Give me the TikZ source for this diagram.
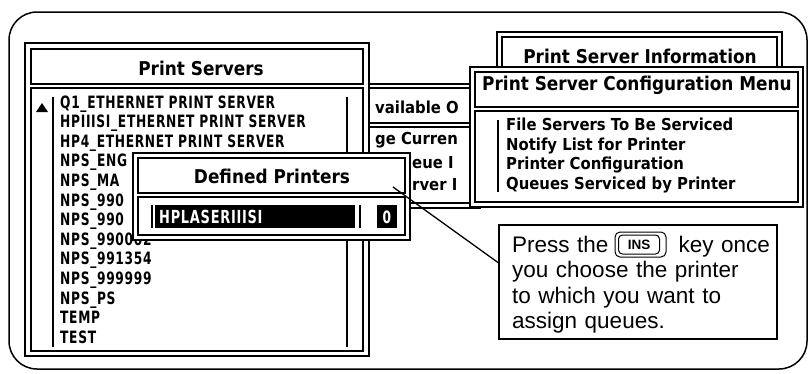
\documentclass[tikz,border=0pt]{standalone}
\usepackage{fontspec}
\setmainfont{Liberation Sans}
\newfontfamily\chicago{DejaVu Sans}[FakeStretch=0.9]
\newfontfamily\chicagotitle{DejaVu Sans}[FakeStretch=0.89]
\newfontfamily\chicagocaps{DejaVu Sans}[FakeStretch=0.72, LetterSpace=4.0]
\usetikzlibrary{calc}

\begin{document}
\begin{tikzpicture}[x=1pt,y=-1pt]
   \tikzstyle{win}=[draw=black, fill=white, line width=1.3pt]
   \tikzstyle{panel}=[draw=black, line width=2.4pt]
   \tikzstyle{bar}=[draw=black, line width=2pt]
   \tikzstyle{title}=[font=\chicagotitle\bfseries\fontsize{19}{22}\selectfont, inner sep=0pt, anchor=base]
   \tikzstyle{entry}=[font=\chicago\bfseries\fontsize{16.5}{19}\selectfont, inner sep=0pt, anchor=base west]
   \tikzstyle{capsentry}=[font=\chicagocaps\bfseries\fontsize{17}{19}\selectfont, inner sep=0pt, anchor=base west]
   \useasboundingbox (0,0) rectangle (810,373);
   % screen
   \draw[line width=1.5pt, rounded corners=28pt] (9,12) rectangle (807,369);
   % window behind, mostly hidden
   \draw[win] (300,84) rectangle (480,208);
   \foreach \a/\b/\c/\d in {304/88/476/123, 304/127/476/203}
       \draw[panel] (\a,\b) rectangle (\c,\d);
   \node[entry] (avail) at (375,113) {vailable O};
   \node[entry] (change) at (375,144) {ge Curren};
   \node[entry] (queue) at (412,168) {eue I};
   \node[entry] (server) at (412,190) {rver I};
   % print server information
   \draw[win] (497,32) rectangle (782,120);
   \draw[panel] (502,37) rectangle (777,100);
   \node[title] (infotitle) at (640,63) {Print Server Information};
   % configuration menu
   \draw[win] (470,67) rectangle (803,207);
   \foreach \a/\b/\c/\d in {475/72/798/107, 475/111/798/202}
       \draw[panel] (\a,\b) rectangle (\c,\d);
   \node[title] (menutitle) at (637,90.5) {Print Server Configuration Menu};
   \draw[bar] (498,120) -- (498,192);
   \foreach \i/\word in {0/{File Servers To Be Serviced},1/{Notify List for Printer},2/{Printer Configuration},3/{Queues Serviced by Printer}} {
       \node[entry] (opt\i) at (506,130.5+19.5*\i) {\word};
   }
   % print servers
   \draw[win] (25,43) rectangle (369,356);
   \foreach \a/\b/\c/\d in {31/49/363/84, 31/88/363/351}
       \draw[panel] (\a,\b) rectangle (\c,\d);
   \node[title] (srvtitle) at (201,75) {Print Servers};
   \draw[bar] (53,97) -- (53,347);
   \draw[bar] (347,97) -- (347,347);
   \fill (36,112) -- (42,103) -- (48,112) -- cycle;
   \foreach \i/\word in {0/{Q1\_ETHERNET PRINT SERVER},1/{HPIIISI\_ETHERNET PRINT SERVER},2/{HP4\_ETHERNET PRINT SERVER},3/{NPS\_ENG},4/{NPS\_MA},5/{NPS\_990},6/{NPS\_990},7/{NPS\_990002},8/{NPS\_991354},9/{NPS\_999999},10/{NPS\_PS},11/{TEMP},12/{TEST}} {
       \node[capsentry] (srv\i) at (60,108+19.6*\i) {\word};
   }
   % defined printers
   \draw[win] (133,153) rectangle (410,240);
   \foreach \a/\b/\c/\d in {138/158/405/193, 138/197/405/235}
       \draw[panel] (\a,\b) rectangle (\c,\d);
   \node[title] (deftitle) at (272,183) {Defined Printers};
   \draw[bar] (152,205) -- (152,228);
   \fill (155,205) rectangle (355,228);
   \draw[bar] (360,205) -- (360,228);
   \fill (377,205) rectangle (397,228);
   \node[capsentry, text=white, font=\chicagocaps\bfseries\fontsize{18}{19}\selectfont] (printer) at (159,223) {HPLASERIIISI};
   \node[capsentry, text=white, anchor=base] (count) at (387,223) {0};
   % note
   \node[draw, line width=1.5pt, minimum width=278pt, minimum height=114pt] (note) at (638,282) {};
   \node[font=\fontsize{22.5}{25.5}\selectfont, text width=262pt, align=left, inner sep=0pt, anchor=base west] (notetext) at (512,252)
       {Press the\hspace{70pt}key once\\you choose the printer\\to which you want to\\assign queues.};
   \node[draw, line width=1pt, rounded corners=5pt, minimum width=51pt, minimum height=25pt] (inskey) at (640.5,244.5) {};
   \node[draw, line width=1pt, rounded corners=4pt, minimum width=41pt, minimum height=19pt, inner sep=0pt, font=\bfseries\fontsize{13.5}{13.5}\selectfont] (ins) at (639,244.5) {INS};
   \coordinate (tip) at (393,187);
   \draw[line width=1.3pt] (tip) -- ($(note.north west)!0.333!(note.south west)$);
\end{tikzpicture}
\end{document}
